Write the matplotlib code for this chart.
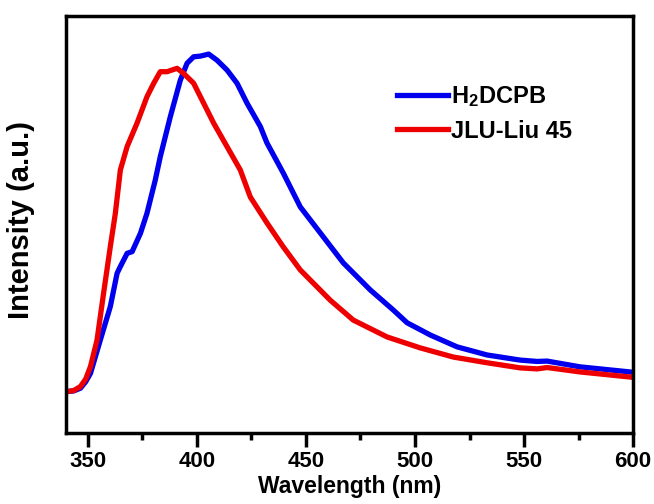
import matplotlib
matplotlib.use("Agg")
import matplotlib.pyplot as plt
from matplotlib.ticker import MultipleLocator

plt.rcParams['font.family'] = ['Liberation Sans', 'DejaVu Sans']
plt.rcParams['font.weight'] = 'bold'
plt.rcParams['mathtext.default'] = 'regular'

# H2DCPB (blue)
wl_h2dcpb = [340.5, 343.5, 346.6, 349.0, 351.2, 355.7, 360.3, 363.4, 364.9, 368.0,
             370.3, 374.1, 377.1, 380.9, 383.2, 387.8, 392.4, 395.5, 398.5, 401.6,
             405.4, 409.2, 413.8, 418.4, 423.0, 429.1, 432.1, 439.6, 447.4, 456.6,
             467.1, 479.5, 490.0, 496.4, 507.0, 519.3, 533.1, 548.2, 556.0, 560.6,
             575.7, 598.6, 600.0]
int_h2dcpb = [0.001, 0.003, 0.011, 0.030, 0.055, 0.153, 0.252, 0.350, 0.370, 0.409,
              0.414, 0.468, 0.527, 0.625, 0.694, 0.812, 0.920, 0.970, 0.989, 0.991,
              0.997, 0.979, 0.950, 0.911, 0.852, 0.783, 0.735, 0.646, 0.546, 0.469,
              0.381, 0.301, 0.242, 0.204, 0.168, 0.133, 0.109, 0.094, 0.090, 0.091,
              0.074, 0.059, 0.058]

# JLU-Liu45 (red)
wl_jlu = [340.5, 343.5, 346.6, 349.0, 351.2, 354.2, 357.2, 360.3, 362.6, 364.9,
          368.0, 372.6, 377.1, 380.2, 383.2, 386.3, 390.9, 393.9, 398.5, 403.1,
          407.7, 413.8, 419.9, 424.5, 432.1, 439.6, 447.4, 461.1, 471.7, 487.3,
          502.4, 517.5, 533.1, 548.2, 556.0, 560.6, 575.7, 598.6, 600.0]
int_jlu = [0.001, 0.004, 0.016, 0.038, 0.075, 0.153, 0.291, 0.429, 0.527, 0.655,
           0.724, 0.794, 0.871, 0.911, 0.945, 0.945, 0.955, 0.940, 0.911, 0.852,
           0.793, 0.724, 0.655, 0.575, 0.499, 0.428, 0.360, 0.271, 0.212, 0.162,
           0.130, 0.103, 0.086, 0.071, 0.068, 0.072, 0.059, 0.044, 0.043]

fig = plt.figure(figsize=(6.54, 5.04), dpi=100)
ax = fig.add_axes([0.101, 0.141, 0.867, 0.827])

ax.plot(wl_h2dcpb, int_h2dcpb, color='#0000ee', lw=3.8, label='H$_2$DCPB')
ax.plot(wl_jlu, int_jlu, color='#ee0000', lw=3.8, label='JLU-Liu 45')

ax.set_xlim(340, 600)
ax.set_ylim(-0.121, 1.109)

ax.xaxis.set_major_locator(MultipleLocator(50))
ax.xaxis.set_minor_locator(MultipleLocator(25))
ax.tick_params(axis='x', which='major', direction='out', length=10, width=2.5, labelsize=16, pad=3)
ax.tick_params(axis='x', which='minor', direction='out', length=5, width=2.5)
ax.set_yticks([])

for s in ax.spines.values():
    s.set_linewidth(2.5)

ax.set_xlabel('Wavelength (nm)', fontsize=16.5, fontweight='bold', labelpad=2)
ax.set_ylabel('Intensity (a.u.)', fontsize=21, fontweight='bold')
ax.yaxis.set_label_coords(-0.055, 0.51)

leg = ax.legend(loc='upper left', bbox_to_anchor=(0.584, 0.837), frameon=False,
                fontsize=17, handlelength=2.15, handletextpad=0.15, labelspacing=0.45,
                borderpad=0, borderaxespad=0)
for t in leg.get_texts():
    t.set_fontweight('bold')

fig.savefig('out.png', dpi=100)
